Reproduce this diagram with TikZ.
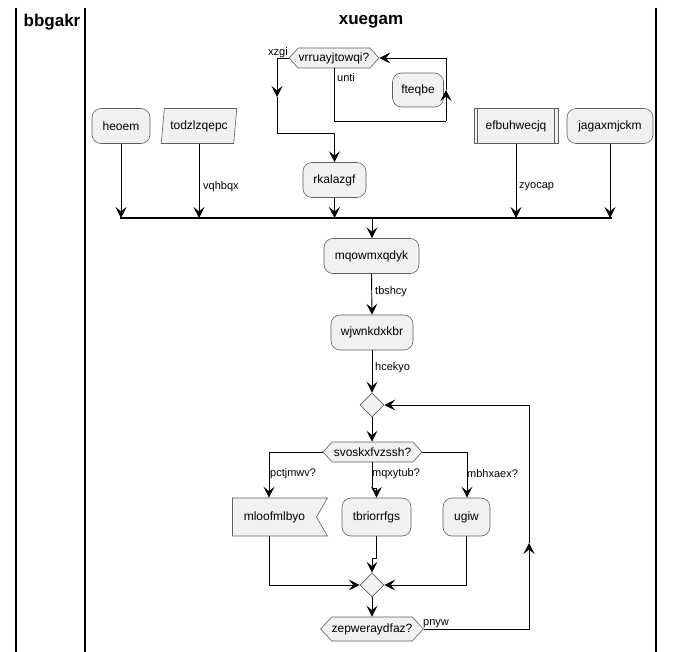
\documentclass[tikz,border=0pt]{standalone}
\usepackage{fontspec}
\setmainfont{Liberation Sans}
\usetikzlibrary{arrows.meta,shapes.symbols,shapes.geometric}
\definecolor{boxfill}{HTML}{F1F1F1}
\definecolor{boxline}{HTML}{5F5F5F}
\begin{document}
\begin{tikzpicture}[x=1pt,y=-1pt,
  every node/.style={font=\fontsize{12}{14}\selectfont, inner sep=0pt},
  shapebase/.style={draw=boxline, fill=boxfill, line width=0.6pt},
  act/.style={shapebase, rounded corners=9pt, minimum height=35pt},
  sub/.style={shapebase, minimum height=35pt},
  hex/.style={shapebase, signal, signal to=west and east, signal pointer angle=95, minimum height=20pt},
  flag/.style={shapebase, signal, signal to=nowhere, signal from=east, signal pointer angle=120, minimum height=38pt},
  merge/.style={shapebase, diamond, minimum width=24pt, minimum height=24pt},
  inbox/.style={shapebase, trapezium, trapezium left angle=77, trapezium right angle=103, trapezium stretches=true, minimum height=35pt},
  plain/.style={line width=0.9pt},
  flow/.style={line width=0.9pt, -{Stealth[length=11pt,width=11pt,inset=4.5pt]}},
  lbl/.style={font=\fontsize{11}{13}\selectfont},
  lane/.style={line width=1.1pt},
  title/.style={font=\fontsize{17}{20}\selectfont\bfseries}
]
\useasboundingbox (0,0) rectangle (675,652);

% swimlanes
\draw[lane] (16,8) -- (16,652);
\draw[lane] (85,8) -- (85,652);
\draw[lane] (656,8) -- (656,652);
\node[title] (laneA) at (52,22) {bbgakr};
\node[title] (laneB) at (371,22) {xuegam};

% repeat loop at the top
\node[hex, minimum width=90pt] (hx1) at (334,58) {vrruayjtowqi?};
\node[act, minimum width=51pt, minimum height=34pt] (fteq) at (418,90) {fteqbe};
\node[act, minimum width=63pt] (rkal) at (334.5,180) {rkalazgf};

% parallel branches
\node[act, minimum width=58pt] (heoem) at (121,126) {heoem};
\node[inbox, minimum width=76pt] (todz) at (199,126) {todzlzqepc};
\node[sub, minimum width=84pt] (efbu) at (516,126) {efbuhwecjq};
\draw[boxline, line width=0.6pt] ([xshift=4pt]efbu.north west) -- ([xshift=4pt]efbu.south west);
\draw[boxline, line width=0.6pt] ([xshift=-4pt]efbu.north east) -- ([xshift=-4pt]efbu.south east);
\node[act, minimum width=86pt] (jaga) at (610,126) {jagaxmjckm};

% join bar
\coordinate (barL) at (120,218);
\coordinate (barR) at (612,218);
\coordinate (barM) at (372,218);
\draw[line width=2.5pt] (barL) -- (barR);

% main column
\node[act, minimum width=95pt] (mqow) at (371.5,256) {mqowmxqdyk};
\node[act, minimum width=82pt] (wjwn) at (372,332.5) {wjwnkdxkbr};
\node[merge] (m1) at (372,405) {};
\node[hex, minimum width=99pt] (hx2) at (372.5,452) {svoskxfvzssh?};
\node[flag, minimum width=95pt] (mloof) at (274.5,517) {mloofmlbyo};
\node[act, minimum width=69pt, minimum height=38pt] (tbri) at (376.5,517) {tbriorrfgs};
\node[act, minimum width=47pt, minimum height=38pt] (ugiw) at (466.5,517) {ugiw};
\node[merge] (m2) at (372,585) {};
\node[hex, minimum width=102pt, minimum height=24pt] (hx3) at (372,629) {zepweraydfaz?};

% loop connectors
\coordinate (cA) at (277,58);
\coordinate (cAm) at (277,97);
\coordinate (cB) at (277,133);
\draw[flow] (hx1.west) -- (cA) -- (cAm);
\draw[flow] (cAm) -- (cB) -- (rkal.north |- cB) -- (rkal.north);
\node[lbl, anchor=east] (lxzgi) at (288,53) {xzgi};

\coordinate (cD) at (334,121);
\coordinate (cE) at (446,121);
\coordinate (cEm) at (446,90);
\coordinate (cF) at (446,58);
\draw[plain] (hx1.south) -- (cD) -- (cE);
\draw[flow] (cE) -- (cEm);
\draw[flow] (cEm) -- (cF) -- (hx1.east);
\node[lbl, anchor=west] (lunti) at (337,78) {unti};

% into the join bar
\draw[flow] (heoem.south) -- (heoem.south |- barL);
\draw[flow] (todz.south) -- (todz.south |- barL);
\node[lbl, anchor=west] (lvq) at (203,187) {vqhbqx};
\draw[flow] (rkal.south) -- (rkal.south |- barL);
\draw[flow] (efbu.south) -- (efbu.south |- barL);
\node[lbl, anchor=west] (lzy) at (519,187) {zyocap};
\draw[flow] (jaga.south) -- (jaga.south |- barL);

% main flow
\draw[flow] (barM) -- (mqow.north -| barM);
\draw[flow] (mqow.south) -- (wjwn.north);
\node[lbl, anchor=west] (ltb) at (375,292) {tbshcy};
\draw[flow] (wjwn.south) -- (m1.north);
\node[lbl, anchor=west] (lhc) at (375,368) {hcekyo};
\draw[flow] (m1.south) -- (hx2.north -| m1.south);

% switch branches
\coordinate (sL) at (269,452);
\coordinate (sR) at (467,452);
\draw[flow] (hx2.west) -- (sL) -- (sL |- mloof.north);
\node[lbl, anchor=west] (lpc) at (270,474) {pctjmwv?};
\coordinate (sM1) at (372,488);
\coordinate (sM2) at (376.5,488);
\draw[flow] (hx2.south -| sM1) -- (sM1) -- (sM2) -- (tbri.north);
\node[lbl, anchor=west] (lmq) at (372,474) {mqxytub?};
\draw[flow] (hx2.east) -- (sR) -- (sR |- ugiw.north);
\node[lbl, anchor=west] (lmb) at (467,474) {mbhxaex?};

% merge
\coordinate (jL) at (269,585);
\coordinate (jR) at (466.5,585);
\coordinate (jM1) at (376.5,558);
\coordinate (jM2) at (372,558);
\draw[flow] (sL |- mloof.south) -- (jL) -- (m2.west);
\draw[flow] (tbri.south) -- (jM1) -- (jM2) -- (m2.north);
\draw[flow] (ugiw.south) -- (jR) -- (m2.east);
\draw[flow] (m2.south) -- (hx3.north);

% repeat back-edge
\coordinate (cG) at (529,629);
\coordinate (cGm) at (529,543);
\coordinate (cH) at (529,405);
\draw[flow] (hx3.east) -- (cG) -- (cGm);
\draw[flow] (cGm) -- (cH) -- (m1.east);
\node[lbl, anchor=west] (lpn) at (423,624) {pnyw};
\end{tikzpicture}
\end{document}
